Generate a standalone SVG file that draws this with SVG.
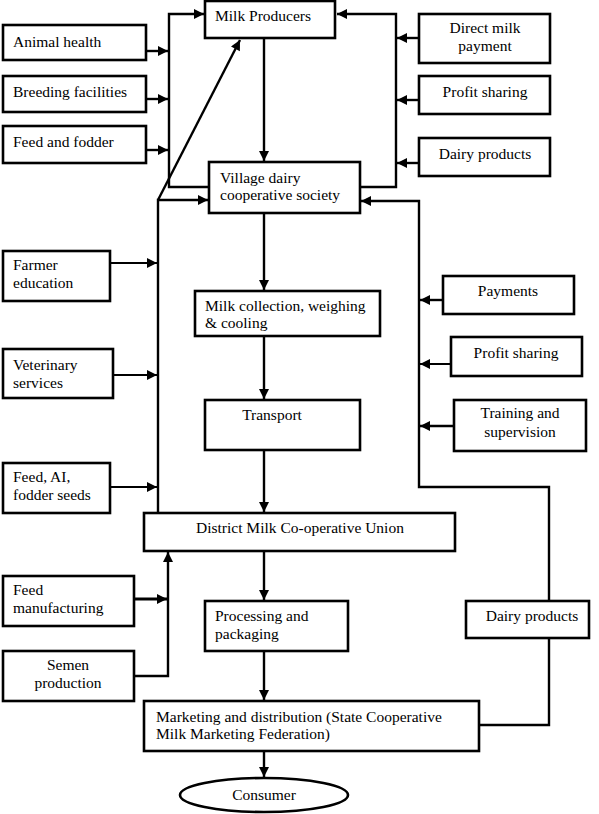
<svg xmlns="http://www.w3.org/2000/svg" width="599" height="814" viewBox="0 0 599 814">
<style>
.b{fill:#fff;stroke:#000;stroke-width:2.6}
.t{font-family:"Liberation Serif","Times New Roman",serif;font-size:15.5px;fill:#000}
.m{text-anchor:middle}
.c{fill:none;stroke:#000;stroke-width:2.4}
</style>
<defs>
<marker id="a" viewBox="0 0 10 10" refX="10" refY="5" markerWidth="11" markerHeight="10" markerUnits="userSpaceOnUse" orient="auto">
<path d="M0,0 L10,5 L0,10 z" fill="#000"/>
</marker>
</defs>
<rect width="599" height="814" fill="#fff"/>
<g id="connectors">
<path class="c" d="M264,38 V161" marker-end="url(#a)"/>
<path class="c" d="M264,214 V290" marker-end="url(#a)"/>
<path class="c" d="M264,337 V399" marker-end="url(#a)"/>
<path class="c" d="M264,451 V512" marker-end="url(#a)"/>
<path class="c" d="M264,552 V600" marker-end="url(#a)"/>
<path class="c" d="M264,652 V700" marker-end="url(#a)"/>
<path class="c" d="M264,752 V777" marker-end="url(#a)"/>
<path class="c" d="M209,187 H169 V14 H204" marker-end="url(#a)"/>
<path class="c" d="M146,51 H168" marker-end="url(#a)"/>
<path class="c" d="M146,99 H168" marker-end="url(#a)"/>
<path class="c" d="M146,150 H168" marker-end="url(#a)"/>
<path class="c" d="M158,200 L240,40" marker-end="url(#a)"/>
<path class="c" d="M158,513 V200 H208" marker-end="url(#a)"/>
<path class="c" style="stroke-width:1.8" d="M110,263 H157" marker-end="url(#a)"/>
<path class="c" style="stroke-width:1.8" d="M108,375 H157" marker-end="url(#a)"/>
<path class="c" style="stroke-width:1.8" d="M110,487 H157" marker-end="url(#a)"/>
<path class="c" style="stroke-width:3" d="M135,599 H167" marker-end="url(#a)"/>
<path class="c" d="M135,676 H168 V552" marker-end="url(#a)"/>
<path class="c" d="M360,187 H396 V14 H337" marker-end="url(#a)"/>
<path class="c" d="M419,38 H397" marker-end="url(#a)"/>
<path class="c" d="M419,100 H397" marker-end="url(#a)"/>
<path class="c" d="M419,163 H397" marker-end="url(#a)"/>
<path class="c" d="M549,601 V487 H419 V201 H361" marker-end="url(#a)"/>
<path class="c" d="M549,638 V725 H479"/>
<path class="c" d="M443,300 H420" marker-end="url(#a)"/>
<path class="c" style="stroke-width:1.8" d="M455,364 H420" marker-end="url(#a)"/>
<path class="c" d="M454,426 H420" marker-end="url(#a)"/>
</g>
<g id="milk-producers"><rect class="b" x="205" y="1" width="130" height="37"/><text class="t" x="215" y="21">Milk Producers</text></g>
<g id="animal-health"><rect class="b" x="3" y="25" width="143" height="35"/><text class="t" x="13" y="47">Animal health</text></g>
<g id="breeding-facilities"><rect class="b" x="3" y="76" width="143" height="36"/><text class="t" x="13" y="97">Breeding facilities</text></g>
<g id="feed-and-fodder"><rect class="b" x="3" y="126" width="143" height="37"/><text class="t" x="13" y="147">Feed and fodder</text></g>
<g id="direct-milk-payment"><rect class="b" x="419" y="14" width="131" height="49"/><text class="t m" x="485" y="33">Direct milk</text><text class="t m" x="485" y="51">payment</text></g>
<g id="profit-sharing-1"><rect class="b" x="419" y="76" width="131" height="38"/><text class="t m" x="485" y="97">Profit sharing</text></g>
<g id="dairy-products-1"><rect class="b" x="419" y="138" width="131" height="38"/><text class="t m" x="485" y="159">Dairy products</text></g>
<g id="village-society"><rect class="b" x="209" y="162" width="151" height="51"/><text class="t" x="220" y="183">Village dairy</text><text class="t" x="220" y="200">cooperative society</text></g>
<g id="farmer-education"><rect class="b" x="3" y="251" width="107" height="50"/><text class="t" x="13" y="270">Farmer</text><text class="t" x="13" y="288">education</text></g>
<g id="veterinary-services"><rect class="b" x="3" y="349" width="110" height="49"/><text class="t" x="13" y="370">Veterinary</text><text class="t" x="13" y="388">services</text></g>
<g id="feed-ai"><rect class="b" x="3" y="463" width="107" height="50"/><text class="t" x="13" y="482">Feed, AI,</text><text class="t" x="13" y="500">fodder seeds</text></g>
<g id="milk-collection"><rect class="b" x="195" y="291" width="185" height="45"/><text class="t" x="205" y="311">Milk collection, weighing</text><text class="t" x="205" y="328">&amp; cooling</text></g>
<g id="transport"><rect class="b" x="205" y="400" width="155" height="50"/><text class="t m" x="272" y="420">Transport</text></g>
<g id="payments"><rect class="b" x="443" y="276" width="131" height="38"/><text class="t m" x="508" y="296">Payments</text></g>
<g id="profit-sharing-2"><rect class="b" x="451" y="337" width="131" height="39"/><text class="t m" x="516" y="358">Profit sharing</text></g>
<g id="training"><rect class="b" x="454" y="400" width="132" height="51"/><text class="t m" x="520" y="418">Training and</text><text class="t m" x="520" y="437">supervision</text></g>
<g id="district-union"><rect class="b" x="144" y="513" width="311" height="38"/><text class="t" x="196" y="533">District Milk Co-operative Union</text></g>
<g id="feed-manufacturing"><rect class="b" x="3" y="576" width="131" height="50"/><text class="t" x="13" y="595">Feed</text><text class="t" x="13" y="613">manufacturing</text></g>
<g id="semen-production"><rect class="b" x="3" y="651" width="131" height="50"/><text class="t m" x="68" y="670">Semen</text><text class="t m" x="68" y="688">production</text></g>
<g id="processing"><rect class="b" x="205" y="601" width="143" height="50"/><text class="t" x="215" y="621">Processing and</text><text class="t" x="215" y="639">packaging</text></g>
<g id="dairy-products-2"><rect class="b" x="466" y="601" width="123" height="37"/><text class="t m" x="532" y="621">Dairy products</text></g>
<g id="marketing"><rect class="b" x="144" y="701" width="335" height="50"/><text class="t" x="156" y="722">Marketing and distribution (State Cooperative</text><text class="t" x="156" y="739">Milk Marketing Federation)</text></g>
<g id="consumer"><ellipse class="b" cx="264" cy="795" rx="84" ry="17"/><text class="t m" x="264" y="800">Consumer</text></g>
</svg>
